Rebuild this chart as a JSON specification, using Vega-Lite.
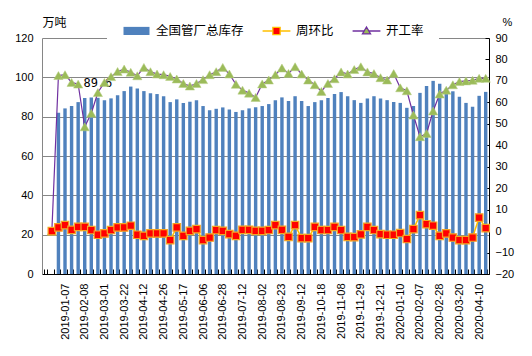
{
  "$schema": "https://vega.github.io/schema/vega-lite/v6.json",
  "width": 447,
  "height": 236,
  "autosize": {"type": "none"},
  "padding": {"left": 42, "top": 38, "right": 43, "bottom": 82},
  "background": "white",
  "config": {
    "view": {"stroke": null},
    "font": "Liberation Sans",
    "axis": {"labelFont": "Liberation Sans", "labelFontSize": 11, "labelColor": "black", "titleFontWeight": "normal", "titleColor": "black"},
    "legend": {"orient": "none", "legendX": 65, "legendY": -37, "direction": "horizontal", "title": null,
      "symbolSize": 729, "labelFont": "Noto Sans CJK SC", "labelFontSize": 12.5, "labelColor": "black", "labelOffset": 5, "columnPadding": 15, "padding": 15, "fillColor": "white", "symbolStrokeWidth": 1.3, "symbolOpacity": 1}
  },
  "data": {"values": [
    {"d":"2018-12-21","inv":null,"wow":0,"rate":0},
    {"d":"2018-12-28","inv":82.0,"wow":1.7,"rate":72.5},
    {"d":"2019-01-07","inv":84.2,"wow":2.8,"rate":72.9},
    {"d":"2019-01-18","inv":85.4,"wow":0.6,"rate":69.3},
    {"d":"2019-01-25","inv":87.4,"wow":2.0,"rate":68.5},
    {"d":"2019-02-08","inv":89.5,"wow":2.0,"rate":48.6},
    {"d":"2019-02-15","inv":89.8,"wow":0.5,"rate":54.9},
    {"d":"2019-02-22","inv":89.6,"wow":-1.7,"rate":64.6,"lab":"89.6"},
    {"d":"2019-03-01","inv":88.4,"wow":-1.1,"rate":69.3},
    {"d":"2019-03-08","inv":89.3,"wow":0.5,"rate":72.0},
    {"d":"2019-03-15","inv":90.9,"wow":1.7,"rate":74.4},
    {"d":"2019-03-22","inv":93.0,"wow":1.7,"rate":75.5},
    {"d":"2019-03-29","inv":95.3,"wow":2.5,"rate":74.0},
    {"d":"2019-04-04","inv":94.3,"wow":-1.7,"rate":72.4},
    {"d":"2019-04-12","inv":93.0,"wow":-2.2,"rate":76.3},
    {"d":"2019-04-18","inv":91.9,"wow":-1.1,"rate":74.3},
    {"d":"2019-04-22","inv":91.5,"wow":-1.1,"rate":73.2},
    {"d":"2019-04-26","inv":90.4,"wow":-1.1,"rate":72.9},
    {"d":"2019-05-03","inv":87.4,"wow":-4.2,"rate":72.1},
    {"d":"2019-05-10","inv":88.8,"wow":1.7,"rate":70.9},
    {"d":"2019-05-17","inv":87.0,"wow":-2.2,"rate":68.8},
    {"d":"2019-05-24","inv":87.6,"wow":0.1,"rate":67.6},
    {"d":"2019-05-31","inv":88.4,"wow":0.9,"rate":68.8},
    {"d":"2019-06-06","inv":85.4,"wow":-4.2,"rate":70.6},
    {"d":"2019-06-14","inv":83.3,"wow":-3.0,"rate":72.9},
    {"d":"2019-06-21","inv":84.0,"wow":0.5,"rate":74.3},
    {"d":"2019-06-28","inv":84.7,"wow":0.1,"rate":76.3},
    {"d":"2019-07-03","inv":83.7,"wow":-1.4,"rate":73.2},
    {"d":"2019-07-05","inv":82.4,"wow":-2.2,"rate":68.4},
    {"d":"2019-07-12","inv":83.3,"wow":0.6,"rate":65.7},
    {"d":"2019-07-19","inv":84.2,"wow":0.6,"rate":64.3},
    {"d":"2019-07-26","inv":84.8,"wow":0.1,"rate":62.3},
    {"d":"2019-08-02","inv":85.4,"wow":0.1,"rate":68.6},
    {"d":"2019-08-09","inv":86.4,"wow":0.5,"rate":70.4},
    {"d":"2019-08-16","inv":88.4,"wow":2.8,"rate":72.9},
    {"d":"2019-08-23","inv":89.8,"wow":0.6,"rate":76.0},
    {"d":"2019-08-30","inv":88.0,"wow":-2.7,"rate":73.5},
    {"d":"2019-09-06","inv":90.4,"wow":2.8,"rate":76.6},
    {"d":"2019-09-12","inv":88.0,"wow":-3.3,"rate":73.2},
    {"d":"2019-09-20","inv":85.4,"wow":-3.3,"rate":70.4},
    {"d":"2019-09-27","inv":87.4,"wow":2.0,"rate":68.2},
    {"d":"2019-10-18","inv":88.4,"wow":0.5,"rate":65.1},
    {"d":"2019-10-25","inv":89.5,"wow":0.5,"rate":68.8},
    {"d":"2019-11-01","inv":91.5,"wow":2.0,"rate":71.0},
    {"d":"2019-11-08","inv":92.5,"wow":0.5,"rate":74.2},
    {"d":"2019-11-15","inv":90.4,"wow":-2.7,"rate":73.2},
    {"d":"2019-11-22","inv":88.4,"wow":-2.8,"rate":75.3},
    {"d":"2019-11-29","inv":87.0,"wow":-1.5,"rate":76.6},
    {"d":"2019-12-06","inv":89.3,"wow":2.0,"rate":74.2},
    {"d":"2019-12-13","inv":90.4,"wow":0.5,"rate":73.4},
    {"d":"2019-12-21","inv":89.3,"wow":-1.4,"rate":71.5},
    {"d":"2019-12-27","inv":88.4,"wow":-1.7,"rate":70.4},
    {"d":"2020-01-03","inv":87.5,"wow":-1.7,"rate":73.4},
    {"d":"2020-01-10","inv":87.0,"wow":-0.9,"rate":66.8},
    {"d":"2020-01-17","inv":84.5,"wow":-3.7,"rate":65.4},
    {"d":"2020-01-23","inv":85.4,"wow":0.9,"rate":54.1},
    {"d":"2020-02-07","inv":92.1,"wow":7.4,"rate":44.0},
    {"d":"2020-02-14","inv":95.6,"wow":3.2,"rate":45.5},
    {"d":"2020-02-21","inv":98.2,"wow":2.5,"rate":56.0},
    {"d":"2020-02-28","inv":96.7,"wow":-2.2,"rate":63.9},
    {"d":"2020-03-06","inv":94.2,"wow":-1.1,"rate":65.7},
    {"d":"2020-03-13","inv":92.9,"wow":-3.0,"rate":68.2},
    {"d":"2020-03-20","inv":90.1,"wow":-4.2,"rate":69.7},
    {"d":"2020-03-27","inv":87.0,"wow":-4.2,"rate":70.0},
    {"d":"2020-04-03","inv":85.0,"wow":-3.0,"rate":70.3},
    {"d":"2020-04-10","inv":90.6,"wow":6.3,"rate":71.2},
    {"d":"2020-04-17","inv":92.6,"wow":1.4,"rate":71.2}
  ]},
  "encoding": {
    "x": {
      "field": "d", "type": "ordinal", "title": null,
      "scale": {
        "domain": ["2018-12-14","2018-12-21","2018-12-28","2019-01-07","2019-01-18","2019-01-25","2019-02-08","2019-02-15","2019-02-22","2019-03-01","2019-03-08","2019-03-15","2019-03-22","2019-03-29","2019-04-04","2019-04-12","2019-04-18","2019-04-22","2019-04-26","2019-05-03","2019-05-10","2019-05-17","2019-05-24","2019-05-31","2019-06-06","2019-06-14","2019-06-21","2019-06-28","2019-07-03","2019-07-05","2019-07-12","2019-07-19","2019-07-26","2019-08-02","2019-08-09","2019-08-16","2019-08-23","2019-08-30","2019-09-06","2019-09-12","2019-09-20","2019-09-27","2019-10-18","2019-10-25","2019-11-01","2019-11-08","2019-11-15","2019-11-22","2019-11-29","2019-12-06","2019-12-13","2019-12-21","2019-12-27","2020-01-03","2020-01-10","2020-01-17","2020-01-23","2020-02-07","2020-02-14","2020-02-21","2020-02-28","2020-03-06","2020-03-13","2020-03-20","2020-03-27","2020-04-03","2020-04-10","2020-04-17"],
        "paddingInner": 0.48, "paddingOuter": 0.24
      },
      "axis": {
        "tickBand": "extent", "labelAngle": -90, "labelAlign": "right", "labelBaseline": "middle",
        "labelPadding": 14, "tickSize": -5, "tickColor": "black", "domainColor": "black", "labelOverlap": false,
        "labelExpr": "indexof(['2019-01-07','2019-02-08','2019-03-01','2019-03-22','2019-04-12','2019-04-26','2019-05-17','2019-06-06','2019-06-28','2019-07-12','2019-08-02','2019-08-23','2019-09-12','2019-10-18','2019-11-08','2019-11-29','2019-12-21','2020-01-10','2020-02-07','2020-02-28','2020-03-20','2020-04-10'], datum.value) >= 0 ? datum.value : ''"
      }
    }
  },
  "layer": [
    {
      "encoding": {
        "y": {"field": "inv", "type": "quantitative",
          "scale": {"domain": [0, 120], "nice": false},
          "axis": {"orient": "left", "values": [0,20,40,60,80,100,120], "grid": true, "gridColor": "#868686", "domainColor": "#868686", "ticks": false, "labelPadding": 9,
            "title": "万吨", "titleAngle": 0, "titleAlign": "left", "titleBaseline": "middle", "titleX": 0, "titleY": -16, "titleFont": "Noto Sans CJK SC", "titleFontSize": 12}}
      },
      "layer": [
        {"mark": {"type": "bar"},
         "encoding": {"fill": {"datum": "全国管厂总库存",
            "scale": {"domain": ["全国管厂总库存","周环比","开工率"], "range": ["#4F81BD","#FF0000","#9BBB59"]},
            "legend": {"symbolType": {"expr": "datum.value === '全国管厂总库存' ? 'M-0.963,-0.3L0.963,-0.3L0.963,0.3L-0.963,0.3Z' : datum.value === '周环比' ? 'M-1.03,0L-0.27,0M-0.27,-0.27L0.27,-0.27L0.27,0.27L-0.27,0.27ZM0.27,0L1.03,0' : 'M-1.03,0L-0.17,0M0,-0.3L0.3,0.22L-0.3,0.22ZM0.17,0L1.03,0'"}}}}},
        {"mark": {"type": "text", "font": "DejaVu Sans Mono", "fontSize": 12, "dx": 0, "dy": -14.6, "baseline": "middle", "align": "center", "color": "black"},
         "transform": [{"filter": "isValid(datum.lab)"}],
         "encoding": {"text": {"field": "lab"}}}
      ]
    },
    {
      "encoding": {
        "y": {"type": "quantitative",
          "scale": {"domain": [-20, 90], "nice": false},
          "axis": {"orient": "right", "values": [-20,-10,0,10,20,30,40,50,60,70,80,90], "grid": false, "domainColor": "black", "tickColor": "black", "tickSize": -4, "labelPadding": 10,
            "title": "%", "titleAngle": 0, "titleAlign": "center", "titleBaseline": "middle", "titleX": 18, "titleY": -16, "titleFont": "Liberation Sans", "titleFontSize": 11}}
      },
      "layer": [
        {"mark": {"type": "line", "strokeWidth": 1.2},
         "encoding": {"y": {"field": "rate"}, "stroke": {"datum": "开工率",
            "scale": {"domain": ["全国管厂总库存","周环比","开工率"], "range": ["transparent","#FFC000","#7030A0"]},
            "legend": {"symbolType": {"expr": "datum.value === '全国管厂总库存' ? 'M-0.963,-0.3L0.963,-0.3L0.963,0.3L-0.963,0.3Z' : datum.value === '周环比' ? 'M-1.03,0L-0.27,0M-0.27,-0.27L0.27,-0.27L0.27,0.27L-0.27,0.27ZM0.27,0L1.03,0' : 'M-1.03,0L-0.17,0M0,-0.3L0.3,0.22L-0.3,0.22ZM0.17,0L1.03,0'"}}}}},
        {"mark": {"type": "point", "shape": "triangle-up", "filled": true, "fill": "#9BBB59", "stroke": "#B5CC80", "strokeWidth": 0.5, "size": 85, "opacity": 1},
         "encoding": {"y": {"field": "rate"}}},
        {"mark": {"type": "line", "strokeWidth": 1.5},
         "encoding": {"y": {"field": "wow"}, "stroke": {"datum": "周环比"}}},
        {"mark": {"type": "point", "shape": "square", "filled": true, "fill": "#FF0000", "stroke": "#F5A623", "strokeWidth": 1.2, "size": 56, "opacity": 1},
         "encoding": {"y": {"field": "wow"}}}
      ]
    }
  ],
  "resolve": {"scale": {"y": "independent"}}
}
